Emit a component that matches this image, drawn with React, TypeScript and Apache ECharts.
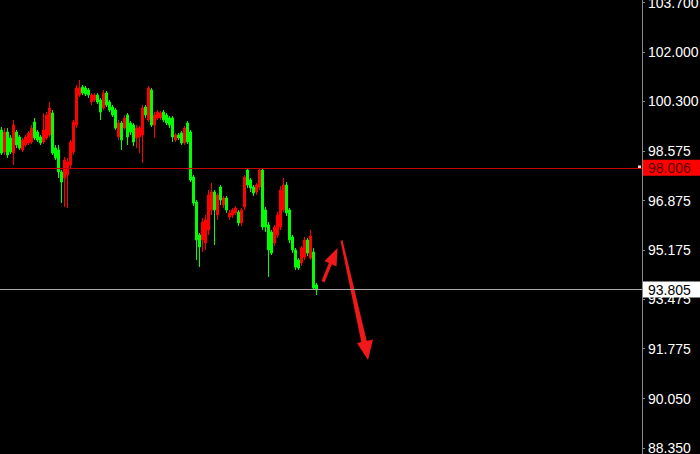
import React, { useEffect, useRef } from "react";
import * as echarts from "echarts";

// Price scale
const priceMin = 88.143;
const priceMax = 103.793;
const tickValues = [103.7, 102.0, 100.3, 98.575, 96.875, 95.175, 93.475, 91.775, 90.05, 88.35];

// Horizontal price lines
const redLineValue = 98.006;
const greyLineValue = 93.805;

// Number of candle slots across the plot (most are still empty on the right)
const slotCount = 214;

// Candles: [open, close, low, high]
const candles: number[][] = [
  [99.312, 98.519, 98.45, 99.415],
  [98.553, 99.243, 98.45, 99.381],
  [99.243, 98.45, 98.347, 99.381],
  [99.036, 98.553, 98.484, 99.14],
  [98.519, 99.484, 98.105, 99.657],
  [99.243, 98.795, 98.691, 99.312],
  [99.071, 98.691, 98.622, 99.14],
  [98.622, 98.967, 98.553, 99.036],
  [98.795, 99.071, 98.726, 99.14],
  [98.864, 99.209, 98.795, 99.277],
  [98.898, 99.381, 98.829, 99.484],
  [99.588, 99.036, 98.967, 99.726],
  [99.243, 98.967, 98.898, 99.312],
  [99.071, 98.864, 98.795, 99.14],
  [98.898, 99.312, 98.829, 99.898],
  [99.036, 99.829, 98.967, 99.932],
  [99.14, 100.07, 99.071, 100.277],
  [99.898, 98.519, 98.45, 100.001],
  [98.691, 98.347, 98.278, 98.795],
  [98.622, 97.864, 97.657, 98.795],
  [97.864, 97.52, 96.796, 97.933],
  [97.657, 98.278, 96.658, 98.381],
  [97.761, 98.209, 96.623, 98.347],
  [98.105, 98.898, 98.002, 98.967],
  [98.553, 99.588, 98.45, 99.657],
  [99.484, 100.76, 99.381, 100.863],
  [100.518, 100.76, 100.449, 101.035],
  [100.794, 100.587, 100.518, 100.863],
  [100.76, 100.553, 100.484, 100.829],
  [100.691, 100.518, 100.415, 100.76],
  [100.277, 100.518, 100.174, 100.587],
  [100.346, 100.518, 100.277, 100.587],
  [100.518, 100.277, 100.208, 100.587],
  [100.346, 99.932, 99.657, 100.415],
  [100.07, 100.587, 100.001, 100.691],
  [100.587, 100.174, 100.105, 100.656],
  [100.277, 100.001, 99.932, 100.346],
  [100.105, 99.829, 99.76, 100.174],
  [100.001, 99.381, 99.312, 100.07],
  [99.071, 99.553, 98.967, 99.657],
  [99.553, 98.967, 98.622, 99.622],
  [99.381, 99.726, 99.312, 99.829],
  [99.829, 99.071, 98.795, 99.898],
  [99.553, 99.243, 99.14, 99.622],
  [99.484, 98.898, 98.76, 99.553],
  [99.036, 99.381, 98.691, 99.484],
  [99.071, 99.381, 98.519, 99.45],
  [99.14, 100.07, 98.174, 100.174],
  [100.105, 99.829, 99.726, 100.174],
  [99.657, 100.76, 99.588, 100.829],
  [100.691, 99.484, 99.415, 100.76],
  [99.484, 99.829, 99.036, 99.932],
  [99.726, 99.932, 99.657, 100.001],
  [99.726, 99.898, 99.657, 99.967],
  [99.932, 99.657, 99.588, 100.001],
  [99.829, 99.553, 99.484, 99.898],
  [99.726, 99.484, 99.381, 99.795],
  [99.726, 99.071, 98.898, 99.795],
  [98.967, 99.14, 98.898, 99.209],
  [99.14, 99.036, 98.967, 99.209],
  [99.209, 98.864, 98.795, 99.277],
  [98.864, 99.381, 98.795, 99.45],
  [99.553, 98.898, 98.829, 99.622],
  [99.243, 97.588, 97.52, 99.312],
  [97.692, 96.796, 96.692, 97.761],
  [96.83, 95.52, 94.831, 96.899],
  [95.693, 95.279, 94.59, 95.762],
  [95.52, 96.141, 95.107, 96.279],
  [95.417, 96.21, 95.176, 96.382],
  [95.865, 97.072, 95.693, 97.244],
  [96.554, 97.175, 96.382, 97.485],
  [97.175, 96.554, 95.348, 97.244],
  [96.382, 97.072, 96.21, 97.14],
  [97.347, 96.899, 96.727, 97.416],
  [96.727, 96.968, 96.623, 97.037],
  [96.968, 96.554, 96.451, 97.037],
  [96.313, 96.451, 96.21, 96.554],
  [96.382, 96.554, 96.279, 96.623],
  [96.451, 96.623, 96.382, 96.692],
  [96.485, 96.106, 96.003, 96.554],
  [96.106, 96.554, 96.003, 96.623],
  [96.658, 97.692, 96.554, 97.761],
  [97.933, 97.416, 97.313, 98.002],
  [97.588, 97.313, 97.175, 97.657],
  [97.347, 97.14, 97.037, 97.416],
  [97.175, 97.416, 97.072, 97.485],
  [97.347, 97.933, 97.244, 98.002],
  [97.933, 95.968, 95.865, 98.002],
  [96.554, 95.968, 95.796, 96.658],
  [96.037, 95.176, 94.245, 96.141],
  [95.796, 95.072, 95.003, 95.865],
  [95.417, 95.968, 95.313, 96.037],
  [95.693, 96.382, 95.589, 96.485],
  [95.968, 97.244, 95.865, 97.382],
  [96.554, 97.416, 96.485, 97.657],
  [97.416, 96.451, 96.347, 97.52],
  [96.554, 95.52, 95.417, 96.623],
  [95.624, 95.176, 95.072, 95.693],
  [95.176, 94.59, 94.486, 95.245],
  [94.831, 94.555, 94.486, 94.9],
  [94.728, 95.245, 94.625, 95.313],
  [94.934, 95.52, 94.831, 95.624],
  [95.52, 95.072, 94.969, 95.589],
  [94.9, 95.658, 94.831, 95.865],
  [95.107, 93.866, 93.797, 95.245],
  [93.969, 93.797, 93.624, 94.038],
];

const categories = Array.from({ length: slotCount }, (_, i) => String(i));

const FONT = "Liberation Sans, Arial, sans-serif";
const ARROW = "#f01818";

export default function App() {
  const ref = useRef<HTMLDivElement>(null);

  useEffect(() => {
    document.body.style.margin = "0";
    document.body.style.background = "#000";
    if (!ref.current) return;
    const chart = echarts.init(ref.current, undefined, { renderer: "svg" });
    const labelCommon = {
      show: true,
      position: "end",
      distance: 1,
      fontSize: 14,
      fontFamily: FONT,
      lineHeight: 15,
      padding: [1, 14, 0, 5],
    };
    chart.setOption({
      animation: false,
      backgroundColor: "#000000",
      grid: {
        left: 0,
        right: 58,
        top: 0,
        bottom: 0,
        containLabel: false,
        outerBoundsMode: "none",
      },
      xAxis: {
        type: "category",
        data: categories,
        boundaryGap: true,
        show: false,
      },
      yAxis: {
        type: "value",
        position: "right",
        min: priceMin,
        max: priceMax,
        scale: true,
        splitLine: { show: false },
        axisLine: { show: true, lineStyle: { color: "#8a8a8a", width: 1 } },
        axisTick: {
          show: true,
          length: 3,
          customValues: tickValues,
          lineStyle: { color: "#8a8a8a" },
        },
        axisLabel: {
          show: true,
          customValues: tickValues,
          margin: 6,
          color: "#ffffff",
          fontSize: 14,
          fontFamily: FONT,
          formatter: (v: number) => v.toFixed(3),
        },
      },
      series: [
        {
          type: "candlestick",
          data: candles,
          barWidth: 1.6,
          itemStyle: {
            color: "#ff0000",
            color0: "#00ff00",
            borderColor: "#ff0000",
            borderColor0: "#00ff00",
            borderWidth: 1,
          },
          markLine: {
            silent: true,
            animation: false,
            symbol: ["none", "none"],
            data: [
              {
                yAxis: redLineValue,
                lineStyle: { color: "#c80000", width: 1, type: "solid" },
                label: {
                  ...labelCommon,
                  formatter: redLineValue.toFixed(3),
                  backgroundColor: "#ff0000",
                  color: "#5a0000",
                },
              },
              {
                yAxis: greyLineValue,
                lineStyle: { color: "#a8a8a8", width: 1, type: "solid" },
                label: {
                  ...labelCommon,
                  formatter: greyLineValue.toFixed(3),
                  backgroundColor: "#ffffff",
                  color: "#000000",
                },
              },
            ],
          },
        },
      ],
      graphic: [
        // small up arrow
        {
          type: "polygon",
          shape: { points: [[321.5, 281], [324.5, 282.5], [332, 264], [329, 262.5]] },
          style: { fill: ARROW },
        },
        {
          type: "polygon",
          shape: { points: [[324.5, 261], [336.5, 266.5], [337.5, 248]] },
          style: { fill: ARROW },
        },
        // big down arrow
        {
          type: "polygon",
          shape: { points: [[340.5, 241], [342.5, 240], [367, 342], [361.5, 343]] },
          style: { fill: ARROW },
        },
        {
          type: "polygon",
          shape: { points: [[357, 343], [373, 339.5], [368, 360]] },
          style: { fill: ARROW },
        },
        // price-line marker on axis
        {
          type: "rect",
          shape: { x: 638, y: 165.5, width: 3, height: 3 },
          style: { fill: "#ffd0d0" },
        },
      ],
    });
    return () => chart.dispose();
  }, []);

  return (
    <div
      ref={ref}
      style={{ position: "absolute", left: 0, top: 0, width: 700, height: 454 }}
    />
  );
}
